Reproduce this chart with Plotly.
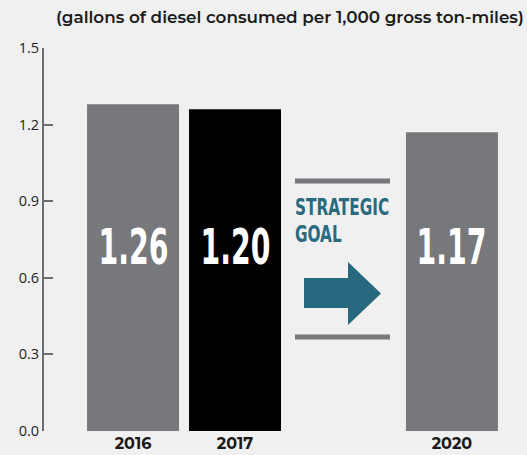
import plotly.graph_objects as go

# ---- data ----
years = ["2016", "2017", "2020"]
bar_values = [1.28, 1.26, 1.17]          # drawn bar heights
value_labels = ["1.26", "1.20", "1.17"]  # printed labels
bar_colors = ["#77787b", "#000000", "#77787b"]
y_ticks = [0.0, 0.3, 0.6, 0.9, 1.2, 1.5]
title_text = "(gallons of diesel consumed per 1,000 gross ton-miles)"
goal_lines = ["STRATEGIC", "GOAL"]

# layout positions (bar slots; 2020 sits after the goal panel)
x_pos = [0, 1, 3.127]

W, H = 527, 455
ML, MR, MT, MB = 44, 0, 48, 24
XR = [-0.873, 3.863]
YR = [0, 1.5]
pw, ph = W - ML - MR, H - MT - MB


def px2x(px):
    return XR[0] + (px - ML) / pw * (XR[1] - XR[0])


def py2y(py):
    return YR[0] + (H - MB - py) / ph * (YR[1] - YR[0])


cond = "DejaVu Sans Condensed, Liberation Sans Narrow, sans-serif"
goal_col = "#2a6a80"

fig = go.Figure(go.Bar(
    x=x_pos, y=bar_values, width=0.902,
    marker=dict(color=bar_colors, line=dict(width=0)),
    hoverinfo="skip",
))

annotations = []
for xp, lab in zip(x_pos, value_labels):
    annotations.append(dict(x=xp, y=py2y(247), text=f"<b>{lab}</b>", showarrow=False,
                            font=dict(family=cond, size=50, color="white"),
                            xanchor="center", yanchor="middle"))

for line_txt, yy in zip(goal_lines, (206.5, 234.0)):
    annotations.append(dict(x=px2x(294), y=py2y(yy), text=f"<b>{line_txt}</b>",
                            showarrow=False, align="left",
                            font=dict(family=cond, size=23, color=goal_col),
                            xanchor="left", yanchor="middle", borderpad=0))
annotations.append(dict(x=(290 - ML) / pw, xref="paper", y=(H - MB - 17) / ph, yref="paper",
                        xanchor="center", yanchor="middle", text=title_text, showarrow=False,
                        font=dict(family="Montserrat, Open Sans, sans-serif", size=16.8,
                                  color="#1a1a1a", weight=600)))

shapes = []
for yy in (181, 337):
    shapes.append(dict(type="line", x0=px2x(295), x1=px2x(390), y0=py2y(yy), y1=py2y(yy),
                       line=dict(color="#77787b", width=5)))

arrow_px = [(304, 278), (348, 278), (348, 262), (381, 293.5), (348, 325), (348, 308), (304, 308)]
path = "M " + " L ".join(f"{px2x(px)},{py2y(py)}" for px, py in arrow_px) + " Z"
shapes.append(dict(type="path", path=path, fillcolor="#27687e", line=dict(width=0)))

fig.update_layout(
    width=W, height=H,
    margin=dict(l=ML, r=MR, t=MT, b=MB, pad=0),
    paper_bgcolor="#f0f0f0", plot_bgcolor="#f0f0f0",
    showlegend=False,
    annotations=annotations,
    shapes=shapes,
    xaxis=dict(range=XR, tickvals=x_pos, ticktext=years, showgrid=False, zeroline=False,
               showline=False, ticks="", automargin=False, ticklabelstandoff=1,
               tickfont=dict(family="Montserrat, Open Sans, sans-serif", size=16,
                             color="#1a1a1a", weight=700)),
    yaxis=dict(range=YR, tickvals=y_ticks, tickformat=".1f", showgrid=False, zeroline=False,
               showline=True, linecolor="#6d6e71", linewidth=2, ticks="inside",
               ticklen=9, tickwidth=2, tickcolor="#6d6e71", automargin=False,
               tickfont=dict(family="Myriad Pro, Open Sans, sans-serif", size=14.5, color="#231f20")),
)

# condense the poster-style lettering (centre-anchored digits, left-anchored goal text)
post_js = """
var gd = document.getElementById('{plot_id}');
function squash() {
  gd.querySelectorAll('g.annotation').forEach(function (g) {
    var i = parseInt(g.getAttribute('data-index'));
    var t = g.querySelector('text.annotation-text');
    if (!t) return;
    if (i <= 2) {
      t.style.transformBox = 'fill-box';
      t.style.transformOrigin = 'center';
      t.style.transform = 'scaleX(0.63)';
    } else if (i <= 4) {
      t.style.transformBox = 'fill-box';
      t.style.transformOrigin = 'left center';
      t.style.transform = 'scaleX(0.74)';
    }
  });
}
squash();
gd.on('plotly_afterplot', squash);
"""

fig.write_html("out.html", post_script=post_js)
